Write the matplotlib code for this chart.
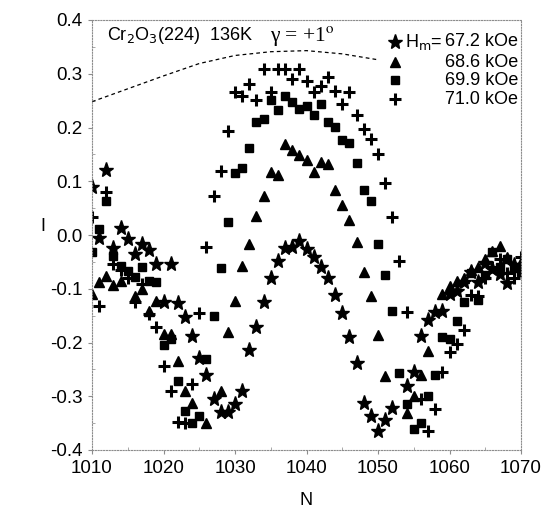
import numpy as np
import matplotlib
matplotlib.use("Agg")
import matplotlib.pyplot as plt

plt.rcParams['font.family'] = ['Liberation Sans', 'DejaVu Sans']
plt.rcParams['axes.unicode_minus'] = False

# 67.2 kOe (stars)
n_star = [1010, 1011, 1012, 1013, 1014, 1015, 1016, 1017, 1018, 1019,
          1020, 1021, 1022, 1023, 1024, 1025, 1026, 1027, 1028, 1029,
          1030, 1031, 1032, 1033, 1034, 1035, 1036, 1037, 1038, 1039,
          1040, 1041, 1042, 1043, 1044, 1045, 1046, 1047, 1048, 1049,
          1050, 1051, 1052, 1054, 1055, 1056, 1057, 1058, 1059,
          1060, 1061, 1062, 1063, 1064, 1065, 1066, 1067, 1068, 1069, 1070]
i_star = [0.089, -0.006, 0.121, -0.024, 0.013, -0.007, -0.035, -0.017, -0.028, -0.054,
          -0.125, -0.054, -0.127, -0.153, -0.188, -0.229, -0.261, -0.306, -0.330, -0.330,
          -0.315, -0.291, -0.214, -0.171, -0.125, -0.080, -0.048, -0.024, -0.022, -0.011,
          -0.026, -0.041, -0.060, -0.080, -0.112, -0.145, -0.190, -0.239, -0.313, -0.337,
          -0.365, -0.345, -0.322, -0.281, -0.255, -0.188, -0.158, -0.143, -0.141,
          -0.110, -0.104, -0.088, -0.069, -0.088, -0.052, -0.063, -0.073, -0.089, -0.055, -0.058]

# 68.6 kOe (triangles)
n_tri = [1010, 1011, 1012, 1013, 1014, 1016, 1017, 1018, 1019,
         1020, 1021, 1022, 1023, 1024, 1026, 1028, 1029,
         1030, 1031, 1032, 1033, 1034, 1035, 1036, 1037, 1038, 1039,
         1040, 1041, 1042, 1043, 1044, 1045, 1046, 1047, 1048, 1049,
         1050, 1051, 1054, 1055, 1056, 1057, 1059,
         1060, 1061, 1062, 1063, 1064, 1065, 1066, 1067, 1068, 1069, 1070]
i_tri = [-0.110, -0.088, -0.076, -0.093, -0.085, -0.113, -0.100, -0.141, -0.123,
         -0.184, -0.184, -0.235, -0.290, -0.313, -0.350, -0.290, -0.180,
         -0.123, -0.057, -0.017, 0.036, 0.073, 0.117, 0.112, 0.170, 0.158, 0.148,
         0.140, 0.118, 0.135, 0.133, 0.084, 0.056, 0.028, -0.013, -0.069, -0.113,
         -0.186, -0.262, -0.332, -0.300, -0.261, -0.216, -0.110,
         -0.095, -0.085, -0.080, -0.065, -0.060, -0.045, -0.030, -0.020, -0.040, -0.060, -0.050]

# 69.9 kOe (squares)
n_sq = list(range(1010, 1071))
i_sq = [-0.032, 0.011, 0.063, -0.039, -0.058, -0.067, -0.078, -0.060, -0.085, -0.087,
        -0.205, -0.194, -0.272, -0.328, -0.349, -0.337, -0.231, -0.151, -0.061, 0.024,
        0.116, 0.125, 0.162, 0.211, 0.216, 0.252, 0.233, 0.259, 0.248, 0.235,
        0.240, 0.224, 0.244, 0.211, 0.201, 0.177, 0.171, 0.134, 0.084, 0.063,
        -0.017, -0.075, -0.141, -0.256, -0.315, -0.360, -0.350, -0.300, -0.261, -0.190,
        -0.194, -0.160, -0.125, -0.070, -0.120, -0.075, -0.032, -0.060, -0.045, -0.060,
        -0.069]

# 71.0 kOe (crosses)
n_plus = [1010, 1011, 1012, 1013, 1014, 1015, 1016, 1017, 1018, 1019,
          1020, 1021, 1022, 1023, 1024, 1025, 1026, 1027, 1028, 1029,
          1030, 1031, 1032, 1033, 1034, 1035, 1036, 1037, 1038, 1039,
          1040, 1041, 1042, 1043, 1044, 1045, 1046, 1047, 1048, 1049,
          1050, 1051, 1052, 1053, 1054, 1056, 1057, 1058, 1059,
          1060, 1061, 1062, 1063, 1064, 1065, 1066, 1067, 1068, 1069, 1070]
i_plus = [0.034, -0.132, 0.080, -0.054, -0.065, -0.080, -0.125, -0.092, -0.147, -0.171,
          -0.244, -0.290, -0.347, -0.349, -0.278, -0.145, -0.022, 0.073, 0.119, 0.193,
          0.266, 0.259, 0.281, 0.252, 0.309, 0.266, 0.309, 0.309, 0.291, 0.309,
          0.287, 0.266, 0.278, 0.294, 0.268, 0.244, 0.266, 0.224, 0.198, 0.179,
          0.151, 0.097, 0.034, -0.048, -0.143, -0.306, -0.365, -0.324, -0.255,
          -0.218, -0.203, -0.177, -0.112, -0.114, -0.080, -0.060, -0.045, -0.070, -0.080, -0.040]

# dashed envelope curve
n_env = [1010, 1015, 1020, 1025, 1030, 1035, 1040, 1045, 1050]
i_env = [0.248, 0.272, 0.296, 0.319, 0.334, 0.341, 0.343, 0.337, 0.326]

labels = ["67.2 kOe", "68.6 kOe", "69.9 kOe", "71.0 kOe"]
yticks = [-0.4, -0.3, -0.2, -0.1, 0.0, 0.1, 0.2, 0.3, 0.4]
ytick_labels = ["-0.4", "-0.3", "-0.2", "-0.1", "0.0", "0.1", "0.2", "0.3", "0.4"]

fig = plt.figure(figsize=(5.49, 5.13), dpi=100)
ax = fig.add_axes([92 / 549, 1 - 450 / 513, 429 / 549, 430 / 513])

ax.plot(n_env, i_env, color='k', lw=0.9, ls=(0, (3, 2.5)))
ax.plot(n_star, i_star, ls='none', marker='*', ms=11, color='k', mec='k')
ax.plot(n_tri, i_tri, ls='none', marker='^', ms=7.5, color='k', mec='k')
ax.plot(n_sq, i_sq, ls='none', marker='s', ms=6, color='k', mec='k')
ax.plot(n_plus, i_plus, ls='none', marker='+', ms=8, mew=2.2, color='k')

ax.set_xlim(1010, 1070)
ax.set_ylim(-0.4, 0.4)
ax.set_xticks([1010, 1020, 1030, 1040, 1050, 1060, 1070])
ax.set_yticks(yticks)
ax.set_yticklabels(ytick_labels)
ax.set_xticks(np.arange(1015, 1070, 10), minor=True)
ax.set_yticks(np.arange(-0.35, 0.4, 0.1), minor=True)
ax.tick_params(which='major', direction='out', length=3, color='0.55', labelsize=13.5, pad=4)
ax.tick_params(which='minor', direction='in', length=2, color='0.6')
for s in ax.spines.values():
    s.set_color('0.55')
    s.set_linewidth(0.8)
    s.set_linestyle((0, (1, 1.5)))

ax.set_xlabel('N', fontsize=13)
ax.set_ylabel('I', fontsize=13, rotation=0)
ax.xaxis.set_label_coords(0.5, -0.098)
ax.yaxis.set_label_coords(-0.114, 0.5)

ax.text(0.035, 0.963, r"Cr$_2$O$_3$(224)  136K", transform=ax.transAxes,
        fontsize=13, va='center', ha='left')
ax.text(0.415, 0.963, "\u03b3 = +1$^{\\mathrm{o}}$", transform=ax.transAxes,
        fontsize=15.5, va='center', ha='left', family=['Liberation Serif', 'DejaVu Serif'],
        math_fontfamily='stix')

# legend drawn by hand so the labels line up on the right
leg_y = [0.949, 0.902, 0.860, 0.816]
leg_m = [('*', 11, 1), ('^', 7.5, 1), ('s', 6, 1), ('+', 8, 2.2)]
for (m, ms, mew), y, lab in zip(leg_m, leg_y, labels):
    ax.plot([0.706], [y], transform=ax.transAxes, marker=m, ms=ms, mew=mew,
            color='k', ls='none', clip_on=False)
    ax.text(0.993, y, lab, transform=ax.transAxes, fontsize=13, ha='right', va='center')
ax.text(0.73, leg_y[0], r"H$_\mathrm{m}$=", transform=ax.transAxes, fontsize=13,
        ha='left', va='center')

fig.savefig('out.png', dpi=100)
